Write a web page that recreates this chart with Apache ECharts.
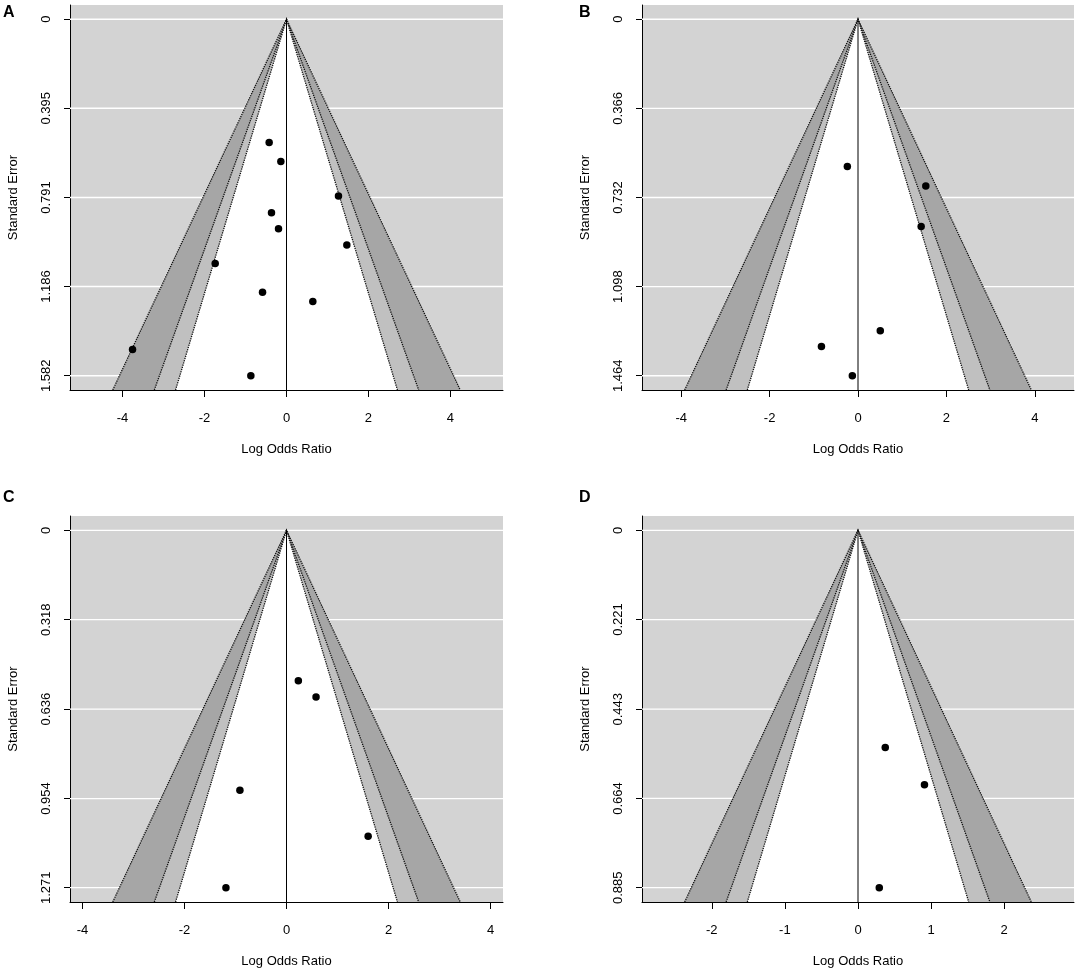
<!DOCTYPE html>
<html><head><meta charset="utf-8">
<script src="https://cdn.jsdelivr.net/npm/echarts@6/dist/echarts.min.js"></script>
<style>html,body{margin:0;padding:0;background:#fff}#c{width:1084px;height:974px}</style>
</head><body><div id="c"></div><script>
// ---- data ----
const panelLabels = ['A', 'B', 'C', 'D'];
const contourLevels = [2.576, 1.96, 1.645]; // 99%, 95%, 90% contours

const seTicksA = [0, 0.395, 0.791, 1.186, 1.582];
const seTicksB = [0, 0.366, 0.732, 1.098, 1.464];
const seTicksC = [0, 0.318, 0.636, 0.954, 1.271];
const seTicksD = [0, 0.221, 0.443, 0.664, 0.885];

const lorTicksA = [-4, -2, 0, 2, 4];
const lorTicksB = [-4, -2, 0, 2, 4];
const lorTicksC = [-4, -2, 0, 2, 4];
const lorTicksD = [-2, -1, 0, 1, 2];

const lorA = [-0.423, -0.138, 1.268, -0.366, -0.195, 1.472, -1.740, -0.585, 0.642, -3.756, -0.870];
const seA  = [0.547, 0.631, 0.784, 0.859, 0.930, 1.002, 1.084, 1.211, 1.252, 1.465, 1.582];
const lorB = [-0.241, 1.534, 1.429, 0.504, -0.827, -0.128];
const seB  = [0.605, 0.685, 0.851, 1.279, 1.344, 1.464];
const lorC = [0.232, 0.579, -0.913, 1.600, -1.187];
const seC  = [0.535, 0.593, 0.924, 1.088, 1.271];
const lorD = [0.373, 0.909, 0.291];
const seD  = [0.538, 0.630, 0.885];

// ---- layout / style ----
const FONT = 'Liberation Sans, Arial, Helvetica, sans-serif';
const bandColors = ['#a6a6a6', '#c0c0c0', '#ffffff'];
const panels = [
  {label: panelLabels[0], seTicks: seTicksA, lorTicks: lorTicksA, lor: lorA, se: seA, grid: {left: 70, top: 5, width: 433, height: 385}, lx: 3, ly: 5},
  {label: panelLabels[1], seTicks: seTicksB, lorTicks: lorTicksB, lor: lorB, se: seB, grid: {left: 642, top: 5, width: 432, height: 385}, lx: 579, ly: 5},
  {label: panelLabels[2], seTicks: seTicksC, lorTicks: lorTicksC, lor: lorC, se: seC, grid: {left: 70, top: 516, width: 433, height: 386}, lx: 3, ly: 490},
  {label: panelLabels[3], seTicks: seTicksD, lorTicks: lorTicksD, lor: lorD, se: seD, grid: {left: 642, top: 516, width: 432, height: 386}, lx: 579, ly: 490}
];

const grids = [], xAxes = [], yAxes = [], series = [], graphics = [];

panels.forEach((p, i) => {
  const maxSE = p.seTicks[p.seTicks.length - 1];
  const yMin = -0.04 * maxSE, yMax = 1.04 * maxSE;
  const xr = contourLevels[0] * maxSE * 1.296;

  grids.push(Object.assign({show: true, backgroundColor: '#d3d3d3', borderWidth: 0}, p.grid));

  xAxes.push({
    type: 'value', gridIndex: i, min: -xr, max: xr,
    axisLine: {show: true, onZero: false, lineStyle: {color: '#000', width: 1}},
    axisTick: {show: true, customValues: p.lorTicks, length: 7, lineStyle: {color: '#000'}},
    axisLabel: {customValues: p.lorTicks, color: '#000', fontSize: 13, fontFamily: FONT, margin: 22,
      formatter: v => String(v)},
    splitLine: {show: false},
    name: 'Log Odds Ratio', nameLocation: 'middle', nameGap: 53,
    nameTextStyle: {color: '#000', fontSize: 13, fontFamily: FONT}
  });

  yAxes.push({
    type: 'value', gridIndex: i, inverse: true, min: yMin, max: yMax,
    axisLine: {show: true, onZero: false, lineStyle: {color: '#000', width: 1}},
    axisTick: {show: true, customValues: p.seTicks, length: 6, lineStyle: {color: '#000'}},
    axisLabel: {customValues: p.seTicks, rotate: 90, color: '#000', fontSize: 13, fontFamily: FONT, margin: 17,
      formatter: v => (v === 0 ? '0' : v.toFixed(3))},
    splitLine: {show: false},
    name: 'Standard Error', nameLocation: 'middle', nameGap: 50,
    nameTextStyle: {color: '#000', fontSize: 13, fontFamily: FONT}
  });

  // white horizontal reference lines at the SE ticks
  series.push({
    type: 'custom', xAxisIndex: i, yAxisIndex: i, silent: true, z: 1,
    encode: {x: 0, y: 1},
    data: p.seTicks.map(v => [0, v]),
    renderItem: (params, api) => {
      const v = api.value(1);
      const a = api.coord([-xr, v]), b = api.coord([xr, v]);
      return {type: 'line', shape: {x1: a[0], y1: a[1], x2: b[0], y2: b[1]},
        style: {stroke: '#ffffff', lineWidth: 1.3}};
    }
  });

  // contour-enhanced funnel regions
  series.push({
    type: 'custom', xAxisIndex: i, yAxisIndex: i, silent: true, z: 2,
    encode: {x: 0, y: 1},
    data: contourLevels.map(z => [0, 0, z]),
    renderItem: (params, api) => {
      const z = api.value(2);
      const apex = api.coord([0, 0]);
      const L = api.coord([-z * yMax, yMax]);
      const R = api.coord([z * yMax, yMax]);
      return {type: 'group', children: [
        {type: 'polygon', shape: {points: [apex, L, R]}, style: {fill: bandColors[params.dataIndex], stroke: null}},
        {type: 'polyline', shape: {points: [L, apex, R]}, style: {fill: null, stroke: '#111', lineWidth: 1.3, lineDash: [1.3, 1]}}
      ]};
    }
  });

  // vertical reference line at 0
  series.push({
    type: 'line', xAxisIndex: i, yAxisIndex: i, z: 3, silent: true,
    data: [[0, 0], [0, yMax]], symbol: 'none',
    lineStyle: {color: '#000', width: 1}
  });

  // study points
  series.push({
    type: 'scatter', xAxisIndex: i, yAxisIndex: i, z: 4,
    data: p.lor.map((x, k) => [x, p.se[k]]),
    symbol: 'circle', symbolSize: 7.5,
    itemStyle: {color: '#000', opacity: 1}
  });

  graphics.push({type: 'text', left: p.lx, top: p.ly,
    style: {text: p.label, fill: '#000', font: 'bold 16px ' + FONT}});
});

const chart = echarts.init(document.getElementById('c'), null, {renderer: 'canvas'});
chart.setOption({
  animation: false,
  backgroundColor: '#fff',
  grid: grids, xAxis: xAxes, yAxis: yAxes, series: series, graphic: graphics
});
</script></body></html>
